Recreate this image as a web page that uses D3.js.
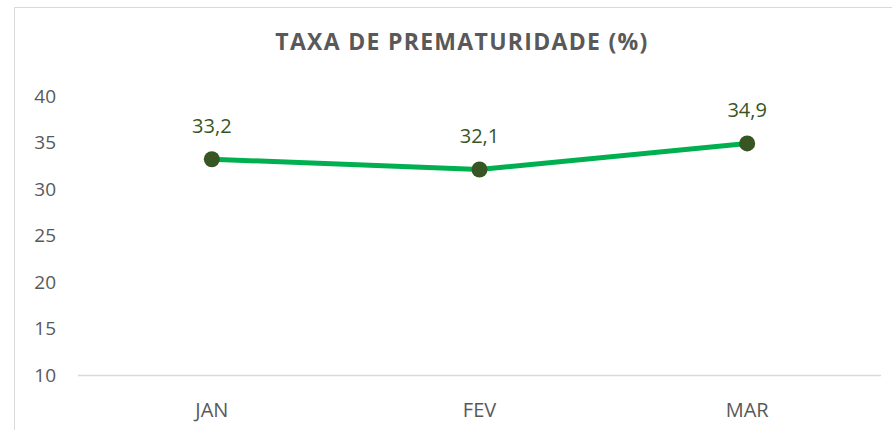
<!DOCTYPE html>
<html>
<head>
<meta charset="utf-8">
<script src="https://cdn.jsdelivr.net/npm/d3@7"></script>
<style>
  body { margin: 0; background: #fff; }
  svg { display: block; font-family: "Open Sans", "Liberation Sans", sans-serif; }
</style>
</head>
<body>
<svg width="892" height="430"></svg>
<script>
const months = ['JAN', 'FEV', 'MAR'];
const rates = [33.2, 32.1, 34.9];
const yTicks = [10, 15, 20, 25, 30, 35, 40];

const svg = d3.select('svg');
const margin = { left: 78, right: 11, top: 96, bottom: 55 };
const width = 892, height = 430;

// chart frame
svg.append('rect')
    .attr('x', 14.5).attr('y', 7.5)
    .attr('width', 900).attr('height', 440)
    .attr('fill', 'none')
    .attr('stroke', '#d9d9d9');

const x = d3.scaleBand()
    .domain(months)
    .range([margin.left, width - margin.right]);

const y = d3.scaleLinear()
    .domain([10, 40])
    .range([height - margin.bottom, margin.top]);

svg.append('text')
    .attr('x', 462).attr('y', 50)
    .attr('text-anchor', 'middle')
    .attr('font-size', 23)
    .attr('letter-spacing', 1.3)
    .attr('font-weight', 'bold')
    .attr('fill', '#595959')
    .text('TAXA DE PREMATURIDADE (%)');

// y axis labels
svg.append('g').selectAll('text')
    .data(yTicks)
    .enter().append('text')
    .attr('x', 56)
    .attr('y', d => y(d))
    .attr('dy', '0.35em')
    .attr('text-anchor', 'end')
    .attr('font-size', 19)
    .attr('fill', '#595959')
    .text(d => d);

// baseline
svg.append('line')
    .attr('x1', margin.left).attr('x2', width - margin.right)
    .attr('y1', y(10) + 0.5).attr('y2', y(10) + 0.5)
    .attr('stroke', '#d9d9d9')
    .attr('stroke-width', 1.5);

// x labels
svg.append('g').selectAll('text')
    .data(months)
    .enter().append('text')
    .attr('x', d => x(d) + x.bandwidth() / 2)
    .attr('y', 410)
    .attr('dy', '0.35em')
    .attr('text-anchor', 'middle')
    .attr('font-size', 20)
    .attr('fill', '#595959')
    .text(d => d);

const pts = months.map((m, i) => ({ m, v: rates[i] }));
const line = d3.line()
    .x(d => x(d.m) + x.bandwidth() / 2)
    .y(d => y(d.v));

svg.append('path')
    .datum(pts)
    .attr('d', line)
    .attr('fill', 'none')
    .attr('stroke', '#00b050')
    .attr('stroke-width', 5)
    .attr('stroke-linejoin', 'round');

svg.append('g').selectAll('circle')
    .data(pts)
    .enter().append('circle')
    .attr('cx', d => x(d.m) + x.bandwidth() / 2)
    .attr('cy', d => y(d.v))
    .attr('r', 8)
    .attr('fill', '#375623');

svg.append('g').selectAll('text')
    .data(pts)
    .enter().append('text')
    .attr('x', d => x(d.m) + x.bandwidth() / 2)
    .attr('y', d => y(d.v) - 33)
    .attr('dy', '0.35em')
    .attr('text-anchor', 'middle')
    .attr('font-size', 20)
    .attr('fill', '#375623')
    .text(d => d.v.toFixed(1).replace('.', ','));
</script>
</body>
</html>
